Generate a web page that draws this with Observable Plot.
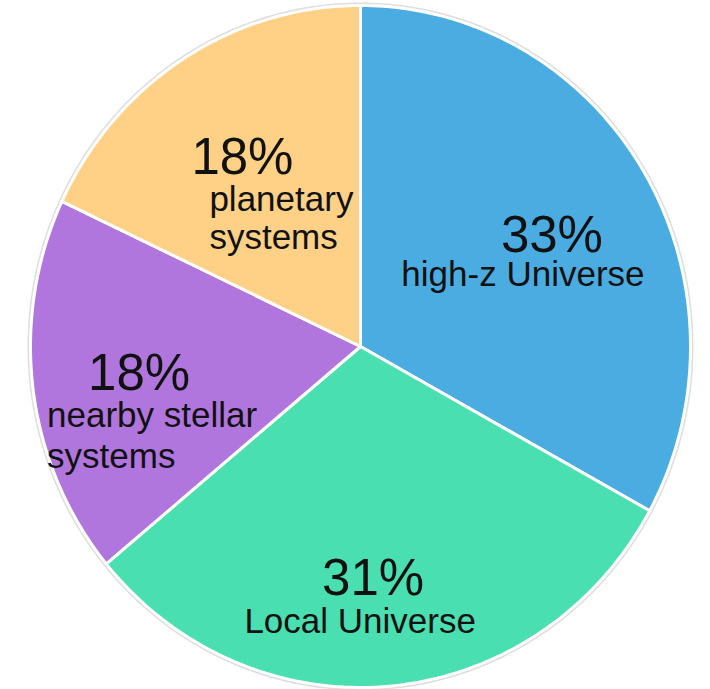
<!DOCTYPE html>
<html>
<head>
<meta charset="utf-8">
<script src="https://cdn.jsdelivr.net/npm/d3@7"></script>
<script src="https://cdn.jsdelivr.net/npm/@observablehq/plot@0.6"></script>
<style>
  html, body { margin: 0; padding: 0; background: #fff; overflow: hidden; }
  svg { display: block; }
</style>
</head>
<body>
<div id="chart"></div>
<script>
// ---- data ----
const categories = ["high-z Universe", "Local Universe", "nearby stellar systems", "planetary systems"];
const shares = [33, 31, 18, 18];
const labelLines = ["high-z Universe", "Local Universe", "nearby stellar\nsystems", "planetary\nsystems"];
const colors = ["#4aace0", "#4adfb0", "#b076dd", "#fed186"];

// ---- layout (styling, not data) ----
const labelLayout = [
  {pctDx: 21, pctDy: 10, nameDx: -8, nameDy: 44, anchor: "middle", lh: 1.15},
  {pctDx: -6, pctDy: 45, nameDx: -19, nameDy: 83, anchor: "middle", lh: 1.15},
  {pctDx: -25, pctDy: 18, nameDx: -117, nameDy: 96, anchor: "start", lh: 1.17},
  {pctDx: -12, pctDy: 0, nameDx: -45, nameDy: 75, anchor: "start", lh: 1.09}
];

// ---- geometry from data ----
const pie = d3.pie().sort(null).value(d => d.value);
const arcs = pie(categories.map((c, i) => ({key: c, value: shares[i]})));

const slicePts = [];
arcs.forEach(a => {
  const key = a.data.key;
  slicePts.push({key, x: 0, y: 0});
  const steps = Math.max(2, Math.ceil((a.endAngle - a.startAngle) / (Math.PI / 180)));
  for (let s = 0; s <= steps; s++) {
    const t = a.startAngle + (a.endAngle - a.startAngle) * s / steps;
    slicePts.push({key, x: Math.sin(t), y: Math.cos(t)});
  }
  slicePts.push({key, x: 0, y: 0});
});

const rim = d3.range(0, 361).map(d => ({x: Math.sin(d * Math.PI / 180), y: Math.cos(d * Math.PI / 180)}));

const labels = arcs.map((a, i) => {
  const mid = (a.startAngle + a.endAngle) / 2;
  return {
    key: a.data.key,
    pct: `${shares[i]}%`,
    name: labelLines[i],
    x: 0.6 * Math.sin(mid),
    y: 0.6 * Math.cos(mid),
    i
  };
});

const font = "Liberation Sans, Arial, Helvetica, sans-serif";
const textMarks = [];
labels.forEach((l, i) => {
  const L = labelLayout[i];
  textMarks.push(Plot.text([l], {
    x: "x", y: "y", text: "pct", dx: L.pctDx, dy: L.pctDy,
    textAnchor: "middle", lineAnchor: "bottom",
    fontSize: 51, fill: "#111", fontFamily: font
  }));
  textMarks.push(Plot.text([l], {
    x: "x", y: "y", text: "name", dx: L.nameDx, dy: L.nameDy,
    textAnchor: L.anchor, lineAnchor: "bottom", lineHeight: L.lh,
    fontSize: 35, fill: "#111", fontFamily: font
  }));
});

const chart = Plot.plot({
  width: 710,
  height: 689,
  x: {domain: [-1, 1], range: [30, 690], axis: null},
  y: {domain: [-1, 1], range: [687, 5], axis: null},
  color: {domain: categories, range: colors},
  style: {background: "#fff"},
  marks: [
    Plot.line(rim, {x: "x", y: "y", stroke: "#d6d6d6", strokeWidth: 6, strokeOpacity: 0.8}),
    Plot.line(slicePts, {x: "x", y: "y", z: "key", fill: "key", stroke: "#fff", strokeWidth: 3, strokeLinejoin: "round"}),
    ...textMarks
  ]
});

document.getElementById("chart").appendChild(chart);
</script>
</body>
</html>
